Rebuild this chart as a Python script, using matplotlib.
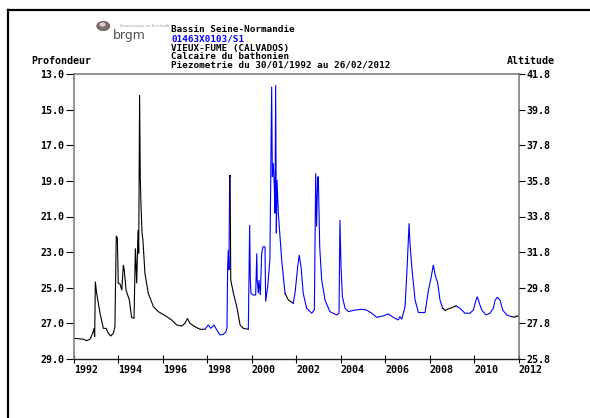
import matplotlib
matplotlib.use("Agg")
import matplotlib.pyplot as plt
from matplotlib.lines import Line2D
from matplotlib.patches import Circle

# ---------------- data ----------------
years = [1992.00, 1992.20, 1992.42, 1992.57, 1992.72, 1992.84, 1992.90, 1992.93, 1992.96, 1993.02,
         1993.17, 1993.32, 1993.44, 1993.55, 1993.65, 1993.77, 1993.84, 1993.90, 1993.95, 1993.99,
         1994.07, 1994.15, 1994.22, 1994.26, 1994.34, 1994.49, 1994.59, 1994.70, 1994.76, 1994.82,
         1994.88, 1994.91, 1994.95, 1994.98, 1995.01, 1995.06, 1995.10, 1995.19, 1995.34, 1995.57,
         1995.79, 1996.17, 1996.39, 1996.62, 1996.84, 1996.99, 1997.10, 1997.22, 1997.44, 1997.67,
         1997.89, 1998.04, 1998.15, 1998.30, 1998.42, 1998.57, 1998.70, 1998.82, 1998.88, 1998.91,
         1998.94, 1998.97, 1999.00, 1999.02, 1999.05, 1999.17, 1999.32, 1999.47, 1999.62, 1999.84,
         1999.90, 1999.93, 1999.96, 2000.06, 2000.17, 2000.22, 2000.24, 2000.29, 2000.32, 2000.38,
         2000.44, 2000.50, 2000.59, 2000.62, 2000.71, 2000.81, 2000.89, 2000.92, 2000.96, 2001.01,
         2001.04, 2001.07, 2001.10, 2001.13, 2001.19, 2001.34, 2001.49, 2001.64, 2001.86, 2001.94,
         2002.06, 2002.13, 2002.21, 2002.31, 2002.46, 2002.69, 2002.81, 2002.87, 2002.91, 2002.96,
         2002.99, 2003.05, 2003.14, 2003.29, 2003.51, 2003.81, 2003.92, 2003.96, 2004.01, 2004.07,
         2004.19, 2004.34, 2004.64, 2004.94, 2005.16, 2005.39, 2005.61, 2005.91, 2006.14, 2006.36,
         2006.58, 2006.66, 2006.74, 2006.89, 2006.99, 2007.07, 2007.11, 2007.19, 2007.34, 2007.49,
         2007.79, 2007.94, 2008.04, 2008.16, 2008.24, 2008.36, 2008.46, 2008.58, 2008.69, 2008.79,
         2008.99, 2009.18, 2009.36, 2009.58, 2009.81, 2009.96, 2010.08, 2010.14, 2010.23, 2010.34,
         2010.53, 2010.71, 2010.86, 2010.94, 2011.04, 2011.16, 2011.28, 2011.46, 2011.68, 2011.83,
         2011.91, 2011.98]

depths = [27.84, 27.86, 27.89, 27.97, 27.89, 27.56, 27.28, 27.75, 24.66, 25.31,
          26.43, 27.28, 27.28, 27.56, 27.71, 27.56, 27.19, 22.09, 22.22, 24.75,
          24.79, 25.13, 23.72, 24.00, 25.13, 25.69, 26.66, 26.72, 22.79, 24.75,
          21.76, 23.07, 14.18, 18.77, 20.26, 21.95, 22.32, 24.19, 25.31, 26.06,
          26.34, 26.62, 26.81, 27.09, 27.15, 27.00, 26.72, 27.00, 27.19, 27.33,
          27.33, 27.09, 27.28, 27.09, 27.37, 27.65, 27.62, 27.50, 27.28, 23.82,
          22.88, 24.00, 18.77, 18.67, 24.57, 25.31, 26.06, 27.09, 27.28, 27.33,
          21.48, 24.57, 25.31, 25.41, 25.41, 23.07, 24.57, 25.31, 24.57, 25.41,
          23.07, 22.70, 22.70, 25.78, 24.94, 23.44, 13.71, 18.77, 18.00, 19.33,
          20.82, 13.62, 21.94, 18.95, 20.82, 23.44, 25.31, 25.69, 25.87, 25.31,
          23.82, 23.16, 23.82, 25.31, 26.15, 26.43, 26.25, 18.57, 21.57, 18.77,
          18.77, 22.70, 24.57, 25.69, 26.34, 26.53, 26.43, 21.20, 23.82, 25.50,
          26.15, 26.34, 26.25, 26.21, 26.25, 26.43, 26.66, 26.58, 26.47, 26.66,
          26.81, 26.62, 26.77, 26.06, 23.63, 21.38, 22.50, 23.82, 25.69, 26.39,
          26.39, 25.13, 24.57, 23.72, 24.28, 24.75, 25.69, 26.15, 26.28, 26.21,
          26.12, 26.02, 26.15, 26.43, 26.43, 26.25, 25.69, 25.50, 25.87, 26.25,
          26.53, 26.43, 26.15, 25.69, 25.54, 25.69, 26.25, 26.53, 26.62, 26.66,
          26.57, 26.62]

# 0 = raw (black), 1 = validated (blue): status of the segment starting at each point
status = [0] * 50 + [1] * 12 + [0] * 7 + [1] * 27 + [0] * 2 + [1] * 49 + [0] * 4 + \
         [1] * 17 + [0] * 4

depth_ticks = [13.0, 15.0, 17.0, 19.0, 21.0, 23.0, 25.0, 27.0, 29.0]
altitude_ticks = [25.8, 27.8, 29.8, 31.8, 33.8, 35.8, 37.8, 39.8, 41.8]
year_ticks = [1992, 1994, 1996, 1998, 2000, 2002, 2004, 2006, 2008, 2010, 2012]

title_lines = ["Bassin Seine-Normandie", "01463X0103/S1", "VIEUX-FUME (CALVADOS)",
               "Calcaire du bathonien", "Piezometrie du 30/01/1992 au 26/02/2012"]

# ---------------- figure ----------------
W, H = 590, 418
fig = plt.figure(figsize=(W / 100, H / 100), dpi=100)
fig.patch.set_facecolor("white")

FONT = "DejaVu Sans Mono"
FS = 7.2
FS_HEAD = 6.7

ax_l, ax_r, ax_t, ax_b = 74, 518.7, 74, 359
ax = fig.add_axes([ax_l / W, 1 - ax_b / H, (ax_r - ax_l) / W, (ax_b - ax_t) / H])

colors = {0: "#000000", 1: "#0000ff"}
n = min(len(years), len(depths), len(status))
start = 0
for i in range(1, n + 1):
    if i == n or status[i] != status[start]:
        end = min(i, n - 1)
        ax.plot(years[start:end + 1], depths[start:end + 1], color=colors[status[start]],
                lw=0.8, solid_joinstyle="miter")
        start = i

ax.set_xlim(1992, 2012)
ax.set_ylim(29.0, 13.0)
ax.set_yticks(depth_ticks)
ax.set_yticklabels([f"{v:.1f}" for v in depth_ticks], fontfamily=FONT, fontweight="bold",
                   fontsize=FS)
ax.set_xticks(year_ticks)
ax.set_xticklabels([str(y) for y in year_ticks], fontfamily=FONT, fontweight="bold",
                   fontsize=FS, ha="left")
ax.tick_params(axis="x", direction="inout", length=6, width=0.8, pad=1, colors="black")
ax.tick_params(axis="y", direction="out", length=5.5, width=0.8, pad=1.5, colors="black")

for s in ["left", "right", "top"]:
    ax.spines[s].set_color("#808080")
    ax.spines[s].set_linewidth(1.2)
ax.spines["bottom"].set_color("#202020")
ax.spines["bottom"].set_linewidth(1.0)

ax2 = ax.twinx()
ax2.set_ylim(25.8, 41.8)
ax2.set_yticks(altitude_ticks)
ax2.set_yticklabels([f"{v:.1f}" for v in altitude_ticks], fontfamily=FONT,
                    fontweight="bold", fontsize=FS)
ax2.tick_params(axis="y", direction="out", length=4.5, width=0.8, pad=1, colors="black")
for s in ["left", "right", "top", "bottom"]:
    ax2.spines[s].set_visible(False)

# axis titles
fig.text(31 / W, 1 - 64.5 / H, "Profondeur", fontfamily=FONT, fontweight="bold", fontsize=FS,
         ha="left", va="baseline")
fig.text(507 / W, 1 - 64.5 / H, "Altitude", fontfamily=FONT, fontweight="bold", fontsize=FS,
         ha="left", va="baseline")

# header text
baselines = [32.3, 42.0, 50.8, 59.3, 67.8]
for txt, yy, c in zip(title_lines, baselines, ["black", "#0000ff", "black", "black", "black"]):
    fig.text(171 / W, 1 - yy / H, txt, fontfamily=FONT, fontweight="bold", fontsize=FS_HEAD,
             ha="left", va="baseline", color=c)

# logo
fig.patches.append(Circle((103.3 / W, 1 - 26 / H), 6.5 / W, transform=fig.transFigure,
                          facecolor="#7d6e6b", edgecolor="#5a4a48", lw=0.5))
fig.patches.append(Circle((102.5 / W, 1 - 24.5 / H), 3.0 / W, transform=fig.transFigure,
                          facecolor="#d8d0cc", edgecolor="none"))
fig.text(113 / W, 1 - 38.7 / H, "brgm", fontfamily="DejaVu Sans", fontsize=9,
         ha="left", va="baseline", color="#505050")
fig.text(120 / W, 1 - 25.5 / H, "Géosciences pour une Terre durable", fontfamily="DejaVu Sans",
         fontsize=2.0, ha="left", va="center", color="#909090")

# outer frame
fig.lines.append(Line2D([8 / W, 1.0], [1 - 10 / H, 1 - 10 / H], transform=fig.transFigure,
                        color="black", lw=1.6))
fig.lines.append(Line2D([8 / W, 8 / W], [1 - 10 / H, 0.0], transform=fig.transFigure,
                        color="black", lw=1.6))

fig.savefig("out.png", dpi=100, facecolor="white")
